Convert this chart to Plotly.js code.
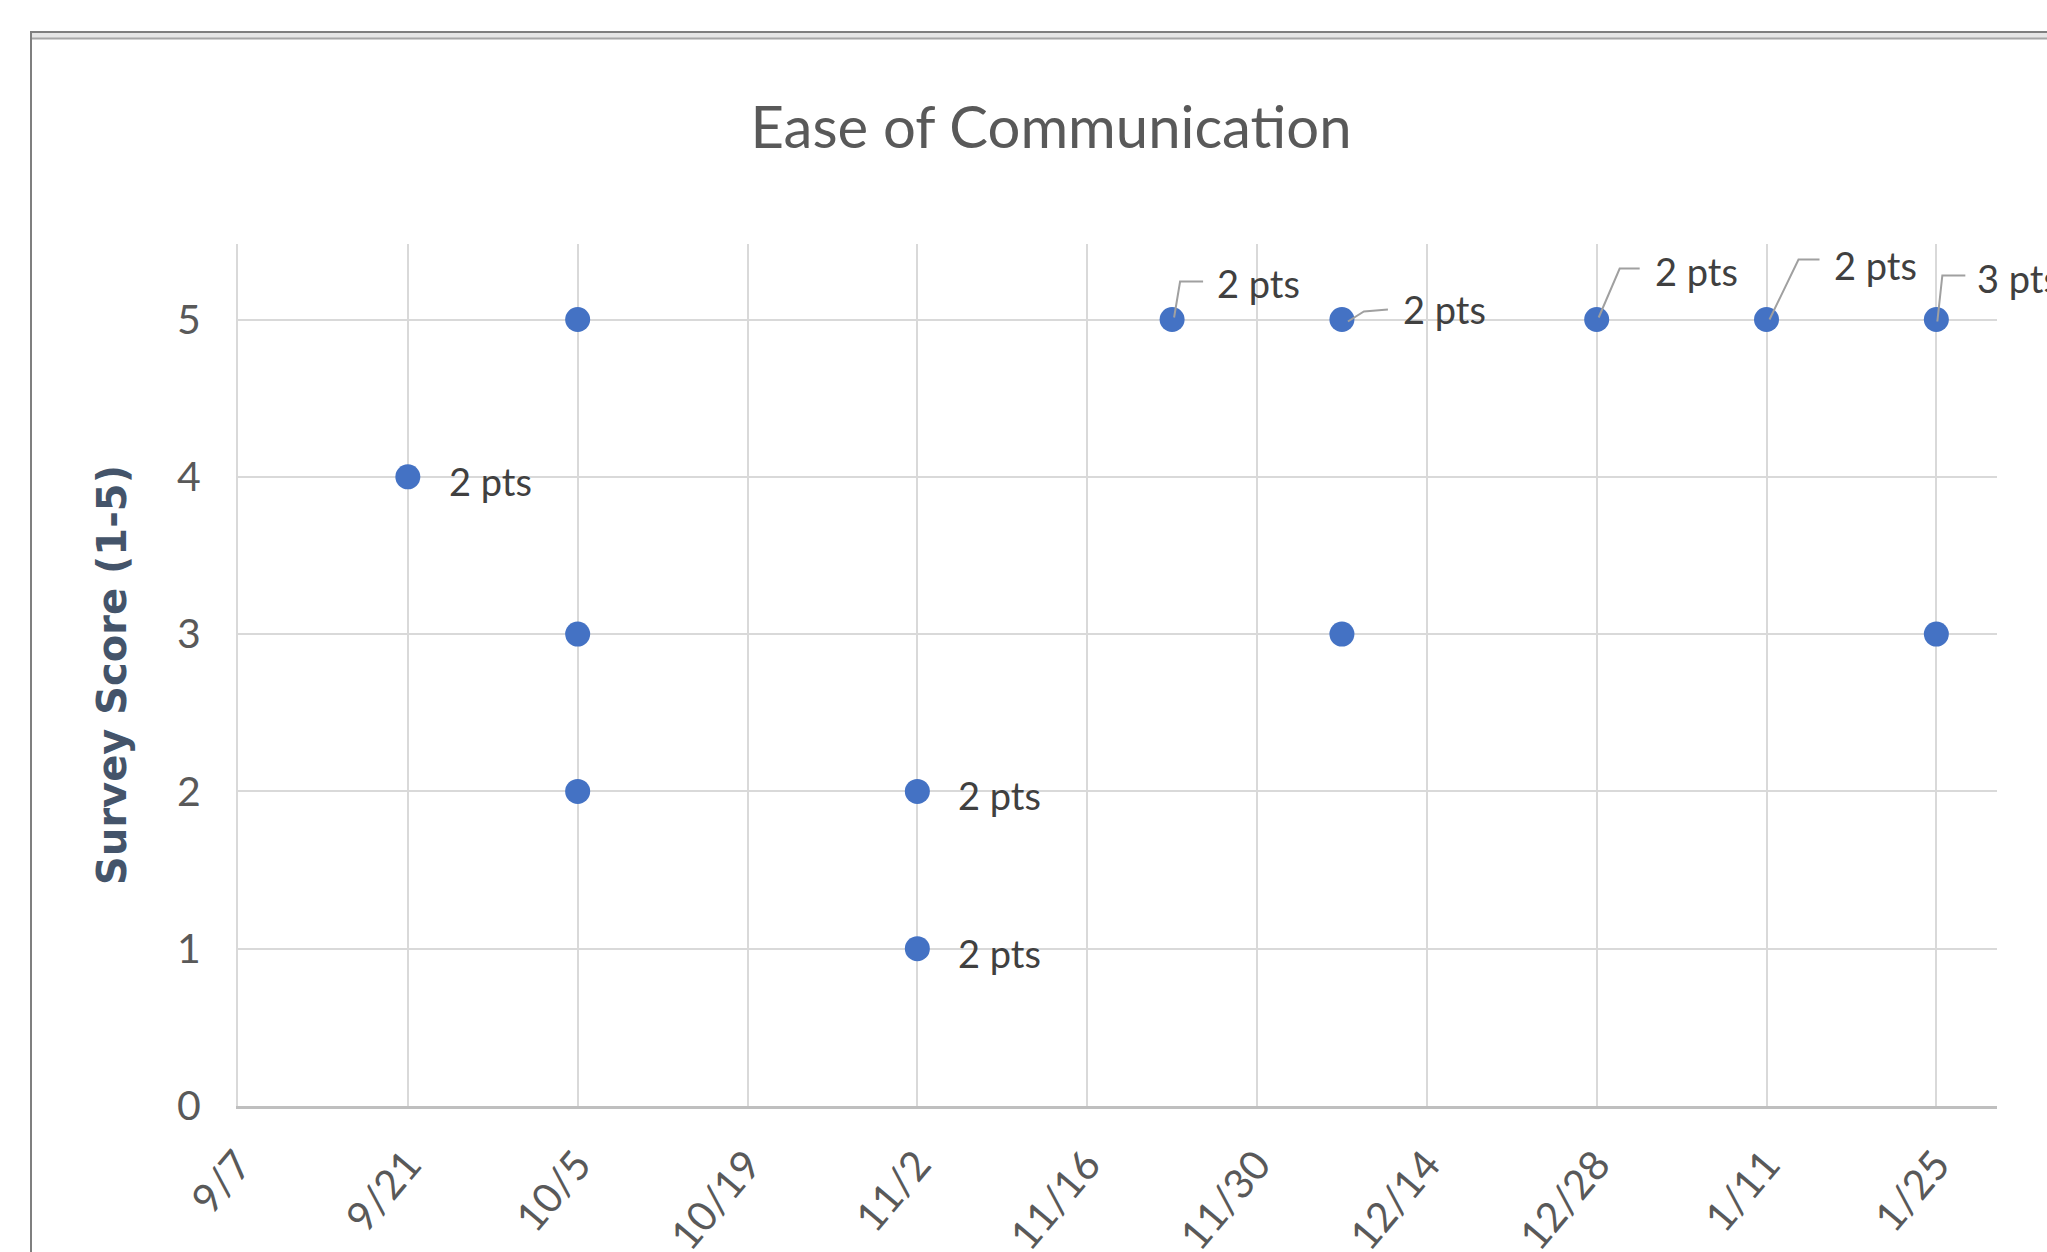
<!DOCTYPE html>
<html>
<head>
<meta charset="utf-8">
<script src="https://cdn.plot.ly/plotly-3.0.1.min.js"></script>
<style>
  html, body { margin: 0; padding: 0; background: #ffffff; }
  #chart { width: 2047px; height: 1252px; }
</style>
</head>
<body>
<div id="chart"></div>
<script>
// ---------------- data ----------------
const dates  = ['2021-09-21', '2021-10-05', '2021-10-05', '2021-10-05', '2021-11-02', '2021-11-02',
                '2021-11-23', '2021-12-07', '2021-12-07', '2021-12-28', '2022-01-11', '2022-01-25', '2022-01-25'];
const scores = [4, 5, 3, 2, 2, 1, 5, 5, 3, 5, 5, 5, 3];
const counts = [2, 1, 1, 1, 2, 2, 2, 2, 1, 2, 2, 3, 1];

const chartTitle = 'Ease of Communication';
const yAxisTitle = 'Survey Score (1-5)';
const yTickVals  = [0, 1, 2, 3, 4, 5];
const xStart = '2021-09-07';
const xEnd   = '2022-01-30';
const tickStepDays = 14;

// ---------------- label placement (pixel offsets from the marker; layout only) ----------------
const placement = [
  { kind: 'right' },
  null, null, null,
  { kind: 'right' }, { kind: 'right' },
  { kind: 'callout', tx: 46, ty: -37, lead: [[2, -2], [8, -38], [31, -38]] },
  { kind: 'callout', tx: 62, ty: -11, lead: [[6, 2], [22, -8], [46, -10]] },
  null,
  { kind: 'callout', tx: 59, ty: -49, lead: [[2, -2], [23, -51], [43, -51]] },
  { kind: 'callout', tx: 68, ty: -55, lead: [[3, 0], [32, -60], [53, -60]] },
  { kind: 'callout', tx: 42, ty: -42, lead: [[1, 2], [6, -44], [29, -44]] },
  null
];

const FONT = 'Lato, "Liberation Sans", sans-serif';
const GREY_TEXT = '#595959';

const M = { l: 238, r: 50, t: 244, b: 146 };
const W = 2047, H = 1252;
const PW = W - M.l - M.r, PH = H - M.t - M.b;
const xp = px => (px - M.l) / PW;
const yp = py => (H - M.b - py) / PH;

const annotations = [];
const shapes = [];

counts.forEach((c, i) => {
  const p = placement[i];
  if (!p || c < 2) return;
  const tx = p.kind === 'right' ? 42 : p.tx;
  const ty = p.kind === 'right' ? 4 : p.ty;
  annotations.push({
    x: dates[i], y: scores[i], xref: 'x', yref: 'y',
    text: c + ' pts', showarrow: false,
    xanchor: 'left', yanchor: 'middle',
    xshift: tx - 3, yshift: -ty,
    font: { family: FONT, size: 38, color: '#404040' }
  });
  if (p.kind === 'callout') {
    const d = p.lead.map((pt, k) => (k === 0 ? 'M' : 'L') + pt[0] + ',' + (-pt[1])).join(' ');
    shapes.push({
      type: 'path', xref: 'x', yref: 'y',
      xsizemode: 'pixel', ysizemode: 'pixel',
      xanchor: dates[i], yanchor: scores[i],
      path: d, line: { color: '#A0A0A0', width: 2 }, layer: 'above'
    });
  }
});

// chart-area frame (cropped screenshot edge)
shapes.push(
  { type: 'rect', xref: 'paper', yref: 'paper', x0: xp(31), x1: xp(2100), y0: yp(33), y1: yp(38),
    fillcolor: '#E6E6E6', line: { width: 0 }, layer: 'below' },
  { type: 'line', xref: 'paper', yref: 'paper', x0: xp(31), x1: xp(2100), y0: yp(32), y1: yp(32),
    line: { color: '#7F7F7F', width: 2 } },
  { type: 'line', xref: 'paper', yref: 'paper', x0: xp(31), x1: xp(2100), y0: yp(38.5), y1: yp(38.5),
    line: { color: '#A6A6A6', width: 2 } },
  { type: 'line', xref: 'paper', yref: 'paper', x0: xp(31), x1: xp(31), y0: yp(31), y1: yp(1270),
    line: { color: '#7F7F7F', width: 2 } }
);

const trace = {
  type: 'scatter', mode: 'markers',
  x: dates, y: scores,
  marker: { size: 25, color: '#4472C4' },
  hoverinfo: 'skip', showlegend: false
};

const layout = {
  width: W, height: H,
  margin: M,
  paper_bgcolor: '#ffffff', plot_bgcolor: '#ffffff',
  showlegend: false,
  title: {
    text: chartTitle,
    font: { family: FONT, size: 58, color: GREY_TEXT },
    x: 1051 / W, xref: 'container', xanchor: 'center',
    y: 1 - 128 / H, yref: 'container', yanchor: 'middle'
  },
  xaxis: {
    type: 'date', range: [xStart, xEnd], autorange: false,
    tick0: xStart, dtick: tickStepDays * 86400000, tickformat: '%-m/%-d',
    tickangle: -50, ticks: '', ticklabelstandoff: 15,
    tickfont: { family: FONT, size: 41, color: GREY_TEXT },
    showgrid: true, gridcolor: '#D9D9D9', gridwidth: 2,
    showline: true, linecolor: '#BFBFBF', linewidth: 3,
    zeroline: false, automargin: false, fixedrange: true
  },
  yaxis: {
    range: [0, 5.48], autorange: false,
    tickmode: 'array', tickvals: yTickVals,
    ticks: '', ticklabelstandoff: 27,
    tickfont: { family: FONT, size: 41, color: GREY_TEXT },
    showgrid: true, gridcolor: '#D9D9D9', gridwidth: 2,
    showline: true, linecolor: '#D9D9D9', linewidth: 2,
    zeroline: false, automargin: false, fixedrange: true,
    title: {
      text: yAxisTitle, standoff: 38,
      font: { family: '"DejaVu Sans", sans-serif', size: 40, color: '#44546A', weight: 'bold' }
    }
  },
  annotations: annotations,
  shapes: shapes
};

Plotly.newPlot('chart', [trace], layout, { displayModeBar: false, staticPlot: true });
</script>
</body>
</html>
